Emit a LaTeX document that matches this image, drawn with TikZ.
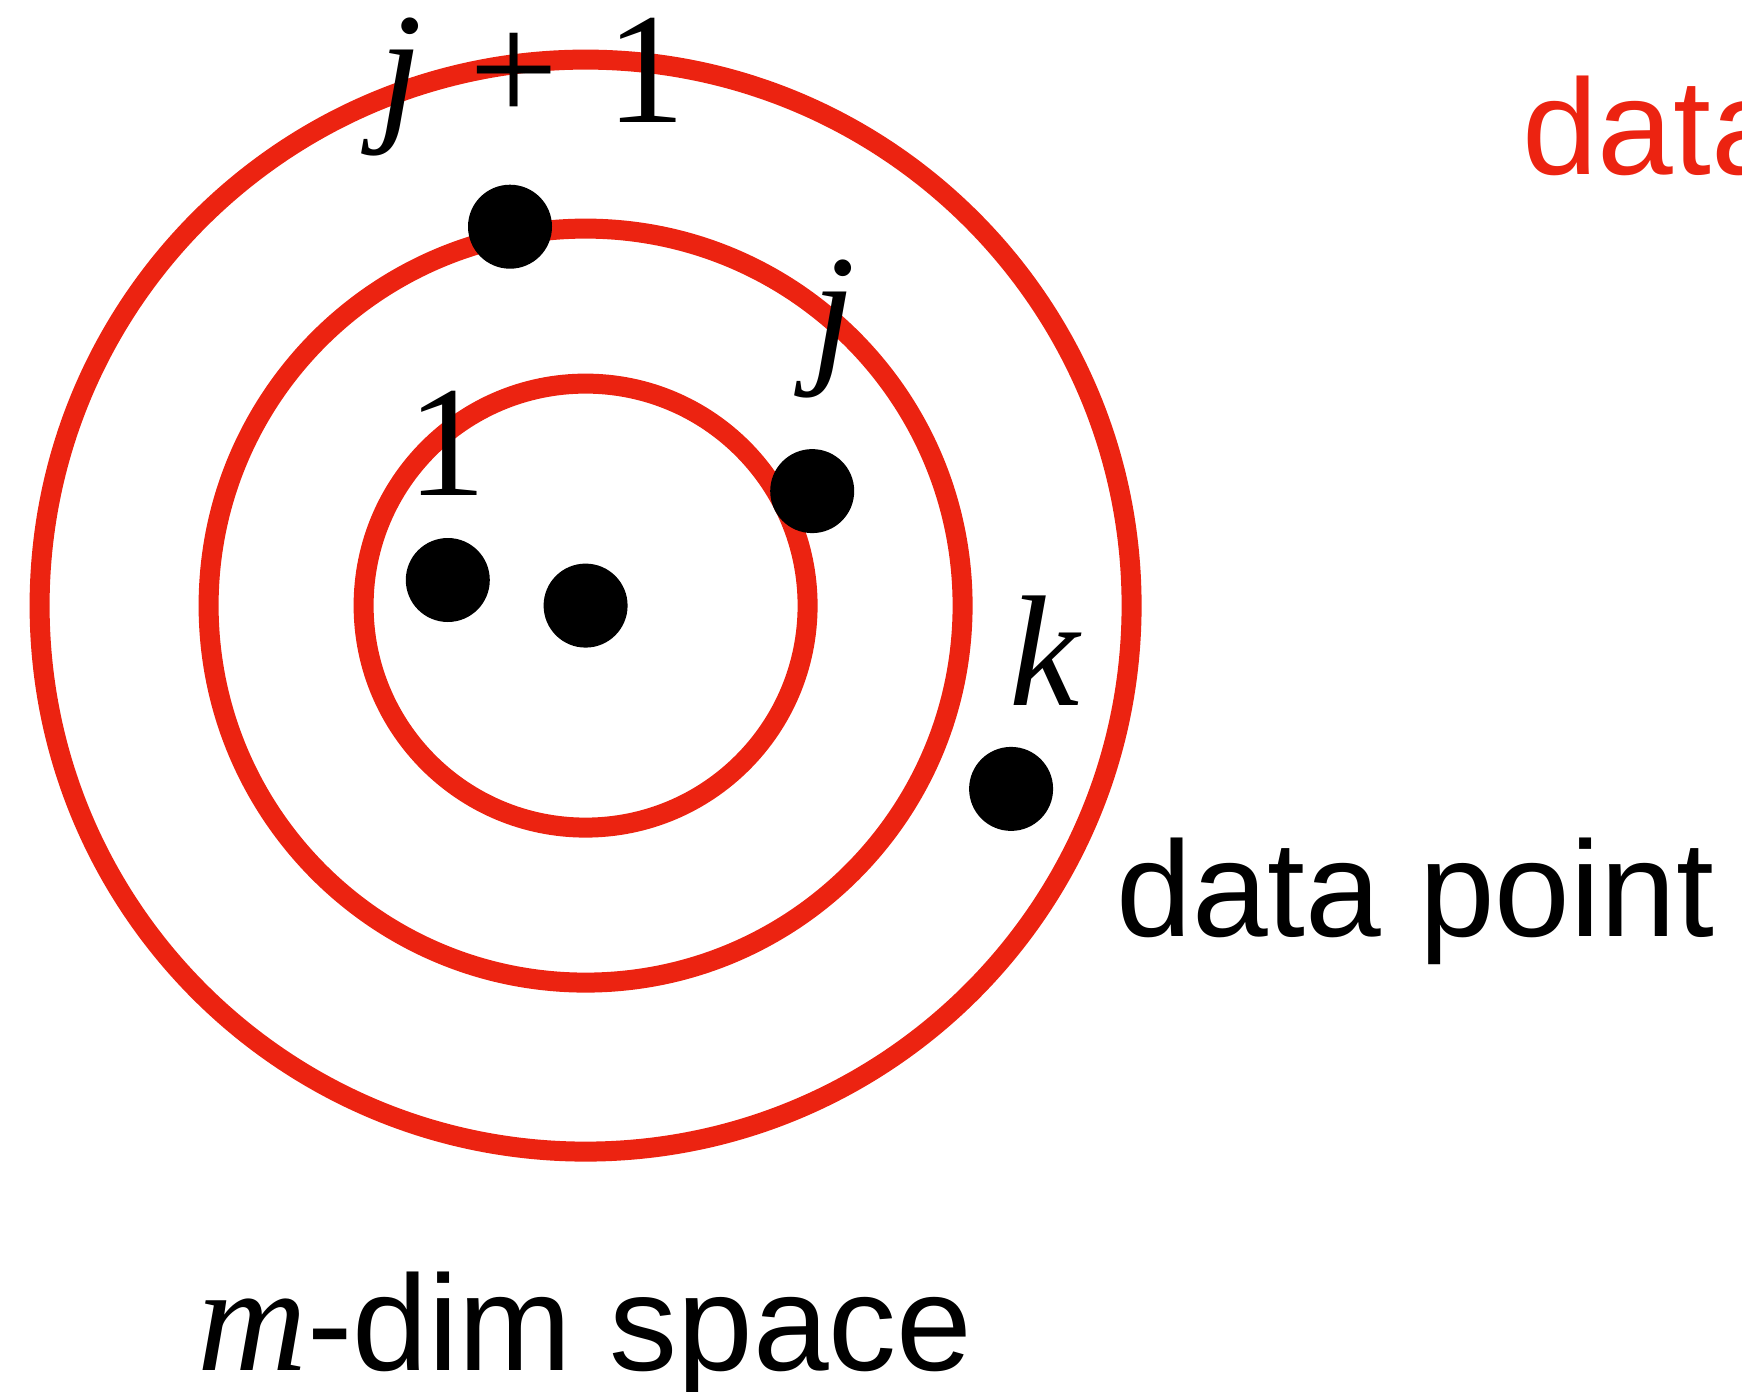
\RequirePackage{fix-cm}
\documentclass[tikz,border=0pt]{standalone}
\usepackage[no-math]{fontspec}
\setmainfont{Liberation Sans}
\newfontfamily\symfont{Liberation Serif}
\usepackage{tikz}
\usetikzlibrary{positioning}
\definecolor{ringred}{RGB}{236,35,17}

\begin{document}
\begin{tikzpicture}[x=0.5pt, y=-0.5pt, every node/.style={inner sep=0pt, outer sep=0pt}]
\tikzset{ring/.style={draw=ringred, line width=10pt}}
\tikzset{datapt/.style={circle, fill=black, minimum size=42pt}}
\tikzset{mlabel/.style={font=\symfont\fontsize{79}{94}\selectfont, anchor=base}}
\tikzset{slabel/.style={font=\fontsize{68}{80}\selectfont, anchor=base west}}
\useasboundingbox (0,0) rectangle (1742,1392);
\coordinate (c) at (585.6,605.6);
\draw[ring] (c) circle[radius=546];
\draw[ring] (c) circle[radius=377];
\draw[ring] (c) circle[radius=222];
\node[datapt] (p0) at (c) {};
\node[datapt] (p1) at (447.8,580) {};
\node[datapt] (pj) at (812.2,491.1) {};
\node[datapt] (pj1) at (510,226.7) {};
\node[datapt] (pk) at (1011.1,788.9) {};
\node[mlabel] (l1) at (446.7,495.6) {1};
\node[mlabel] (lj) at (833,364.4) {\itshape j};
\node[mlabel] (lj1) at (532,122) {\textit{j}\hspace{0.3em}+\hspace{0.3em}1};
\node[mlabel] (lk) at (1044.5,705.6) {\itshape k};
\node[slabel] (dp) at (1116.7,936.7) {data point};
\node[slabel, text=ringred] (ds) at (1522,174.4) {data};
\node[slabel] (sp) at (197.8,1370) {{\symfont\itshape\fontsize{76}{90}\selectfont m}-dim space};
\end{tikzpicture}
\end{document}
